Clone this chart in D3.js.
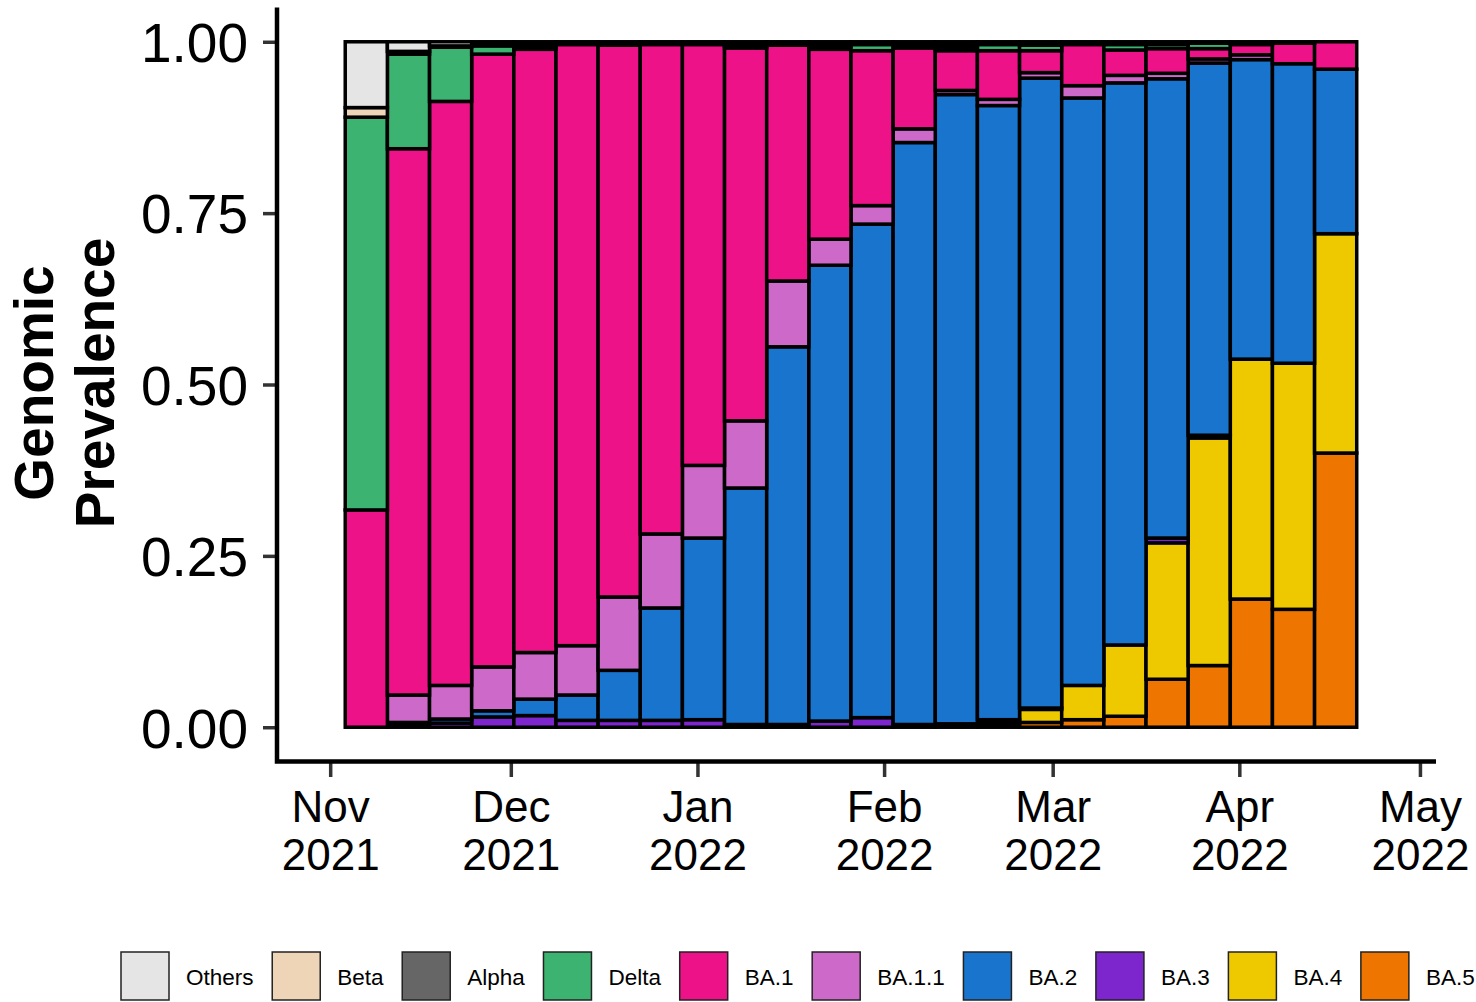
<!DOCTYPE html>
<html>
<head>
<meta charset="utf-8">
<script src="https://cdn.jsdelivr.net/npm/d3@7"></script>
<style>
  html, body { margin: 0; padding: 0; background: #ffffff; }
  svg { display: block; font-family: "Liberation Sans", Arial, Helvetica, sans-serif; }
</style>
</head>
<body>
<svg id="chart" width="1476" height="1002"></svg>
<script>
// Weekly genomic prevalence of SARS-CoV-2 lineages (bar centred on each week's Sunday)
const weeks = [
  "2021-11-07", "2021-11-14", "2021-11-21", "2021-11-28",
  "2021-12-05", "2021-12-12", "2021-12-19", "2021-12-26",
  "2022-01-02", "2022-01-09", "2022-01-16", "2022-01-23", "2022-01-30",
  "2022-02-06", "2022-02-13", "2022-02-20", "2022-02-27",
  "2022-03-06", "2022-03-13", "2022-03-20", "2022-03-27",
  "2022-04-03", "2022-04-10", "2022-04-17"
];

// Legend order (top of stack first)
const variants = ["Others", "Beta", "Alpha", "Delta", "BA.1", "BA.1.1", "BA.2", "BA.3", "BA.4", "BA.5"];
const variantColors = ["#e5e5e5", "#eed5b7", "#666666", "#3cb371", "#ee1289", "#cd69c9", "#1874cd", "#7d26cd", "#eec900", "#ee7600"];

// Share of sequenced samples per week, one array per lineage
const othersShare = [0.096, 0.014, 0.006, 0.003, 0.003, 0.004, 0.005, 0.004, 0.004, 0.003, 0.005, 0.003, 0.004, 0.005, 0.004, 0.004, 0.005, 0.004, 0.004, 0.004, 0.002, 0.004, 0.002, 0.000];
const betaShare   = [0.014, 0.000, 0.002, 0.000, 0.000, 0.000, 0.000, 0.000, 0.000, 0.000, 0.000, 0.000, 0.000, 0.000, 0.000, 0.000, 0.000, 0.000, 0.000, 0.000, 0.000, 0.000, 0.000, 0.000];
const alphaShare  = [0.000, 0.004, 0.000, 0.003, 0.004, 0.000, 0.000, 0.000, 0.000, 0.003, 0.000, 0.004, 0.000, 0.004, 0.005, 0.000, 0.000, 0.000, 0.000, 0.000, 0.000, 0.000, 0.000, 0.000];
const deltaShare  = [0.573, 0.138, 0.079, 0.012, 0.004, 0.000, 0.000, 0.000, 0.000, 0.003, 0.000, 0.004, 0.009, 0.000, 0.004, 0.009, 0.008, 0.000, 0.008, 0.006, 0.008, 0.000, 0.000, 0.000];
const ba1Share    = [0.317, 0.797, 0.852, 0.894, 0.880, 0.877, 0.805, 0.714, 0.614, 0.544, 0.344, 0.277, 0.226, 0.118, 0.058, 0.071, 0.032, 0.060, 0.037, 0.036, 0.015, 0.015, 0.030, 0.040];
const ba11Share   = [0.000, 0.040, 0.049, 0.064, 0.068, 0.072, 0.107, 0.108, 0.106, 0.098, 0.096, 0.038, 0.027, 0.020, 0.006, 0.009, 0.008, 0.018, 0.011, 0.008, 0.006, 0.007, 0.000, 0.000];
const ba2Share    = [0.000, 0.003, 0.006, 0.009, 0.024, 0.037, 0.073, 0.164, 0.265, 0.345, 0.551, 0.665, 0.720, 0.849, 0.918, 0.896, 0.919, 0.857, 0.820, 0.670, 0.543, 0.437, 0.437, 0.240];
const ba3Share    = [0.000, 0.004, 0.006, 0.015, 0.017, 0.010, 0.010, 0.010, 0.011, 0.004, 0.004, 0.009, 0.014, 0.004, 0.002, 0.004, 0.002, 0.000, 0.000, 0.007, 0.004, 0.000, 0.000, 0.000];
const ba4Share    = [0.000, 0.000, 0.000, 0.000, 0.000, 0.000, 0.000, 0.000, 0.000, 0.000, 0.000, 0.000, 0.000, 0.000, 0.003, 0.004, 0.019, 0.050, 0.104, 0.199, 0.332, 0.350, 0.359, 0.320];
const ba5Share    = [0.000, 0.000, 0.000, 0.000, 0.000, 0.000, 0.000, 0.000, 0.000, 0.000, 0.000, 0.000, 0.000, 0.000, 0.000, 0.003, 0.007, 0.011, 0.016, 0.070, 0.090, 0.187, 0.172, 0.400];

const shareByVariant = {
  "Others": othersShare, "Beta": betaShare, "Alpha": alphaShare, "Delta": deltaShare,
  "BA.1": ba1Share, "BA.1.1": ba11Share, "BA.2": ba2Share, "BA.3": ba3Share,
  "BA.4": ba4Share, "BA.5": ba5Share
};

const yTicks = [0, 0.25, 0.50, 0.75, 1.00];
const monthTicks = ["2021-11-01", "2021-12-01", "2022-01-01", "2022-02-01", "2022-03-01", "2022-04-01", "2022-05-01"];
const monthNames = ["Jan", "Feb", "Mar", "Apr", "May", "Jun", "Jul", "Aug", "Sep", "Oct", "Nov", "Dec"];

// ---------------------------------------------------------------------------
const svg = d3.select("#chart");
const DAY = 864e5;
const parseDay = s => { const [yy, mm, dd] = s.split("-").map(Number); return new Date(Date.UTC(yy, mm - 1, dd)); };

// Panel extents
const panel = { left: 277, right: 1436, top: 7.5, bottom: 761.5 };

const x = d3.scaleUtc()
  .domain([new Date(Date.UTC(2021, 9, 23, 4)), new Date(Date.UTC(2022, 4, 3, 16))])
  .range([panel.left, panel.right]);

const y = d3.scaleLinear()
  .domain([-0.05, 1.05])
  .range([panel.bottom, panel.top]);

const color = d3.scaleOrdinal().domain(variants).range(variantColors);

// Table for stacking: one row per week
const rows = weeks.map((w, i) => {
  const row = { week: parseDay(w) };
  variants.forEach(v => { row[v] = shareByVariant[v][i]; });
  return row;
});

// Stack from the bottom: BA.5 first, Others on top
const stackKeys = variants.slice().reverse();
const series = d3.stack().keys(stackKeys)(rows);

const halfWeek = 3.5 * DAY;

const barLayer = svg.append("g").attr("class", "bars");
barLayer.selectAll("g.layer")
  .data(series)
  .join("g")
  .attr("class", "layer")
  .attr("fill", d => color(d.key))
  .selectAll("rect")
  .data(d => d.filter(s => s[1] - s[0] > 0))
  .join("rect")
  .attr("x", d => x(new Date(+d.data.week - halfWeek)))
  .attr("width", d => x(new Date(+d.data.week + halfWeek)) - x(new Date(+d.data.week - halfWeek)))
  .attr("y", d => y(d[1]))
  .attr("height", d => y(d[0]) - y(d[1]))
  .attr("stroke", "#000")
  .attr("stroke-width", 3.5);

// Y axis
const yAxis = d3.axisLeft(y)
  .tickValues(yTicks)
  .tickSize(14)
  .tickPadding(15)
  .tickFormat(d3.format(".2f"));

const gy = svg.append("g")
  .attr("transform", `translate(${panel.left},0)`)
  .call(yAxis);
gy.select(".domain").remove();
gy.selectAll(".tick line").attr("stroke", "#333").attr("stroke-width", 3.5);
gy.selectAll(".tick text")
  .attr("fill", "#000")
  .attr("font-size", 55)
  .attr("dy", "0.36em");

// X axis
const monthDates = monthTicks.map(parseDay);
const xAxis = d3.axisBottom(x)
  .tickValues(monthDates)
  .tickSize(15.5)
  .tickPadding(0)
  .tickFormat("");

const gx = svg.append("g")
  .attr("transform", `translate(0,${panel.bottom})`)
  .call(xAxis);
gx.select(".domain").remove();
gx.selectAll(".tick line").attr("stroke", "#333").attr("stroke-width", 3.5);
gx.selectAll(".tick text").each(function (d) {
  const t = d3.select(this)
    .attr("dy", null)
    .attr("y", null)
    .attr("fill", "#000")
    .attr("font-size", 44)
    .attr("text-anchor", "middle");
  t.text(null);
  t.append("tspan").attr("x", 0).attr("y", 60.5).text(monthNames[d.getUTCMonth()]);
  t.append("tspan").attr("x", 0).attr("y", 108.5).text(d.getUTCFullYear());
});

// Axis lines (left and bottom)
svg.append("path")
  .attr("d", `M${panel.left},${panel.top} V${panel.bottom} H${panel.right}`)
  .attr("fill", "none")
  .attr("stroke", "#000")
  .attr("stroke-width", 4.5)
  .attr("stroke-linejoin", "miter");

// Y axis title
const yTitle = svg.append("text")
  .attr("transform", "translate(0,383) rotate(-90)")
  .attr("text-anchor", "middle")
  .attr("font-weight", "bold")
  .attr("font-size", 55)
  .attr("fill", "#000");
yTitle.append("tspan").attr("x", 0).attr("y", 53).text("Genomic");
yTitle.append("tspan").attr("x", 0).attr("y", 114).text("Prevalence");

// Legend
const legend = svg.append("g").attr("class", "legend");
let lx = 121;
variants.forEach(v => {
  const item = legend.append("g");
  item.append("rect")
    .attr("x", lx).attr("y", 952)
    .attr("width", 48).attr("height", 48)
    .attr("fill", color(v))
    .attr("stroke", "#222")
    .attr("stroke-width", 1.5);
  const label = item.append("text")
    .attr("x", lx + 65).attr("y", 985)
    .attr("font-size", 22.5)
    .attr("fill", "#000")
    .text(v);
  lx = lx + 65 + label.node().getComputedTextLength() + 18.7;
});
</script>
</body>
</html>
